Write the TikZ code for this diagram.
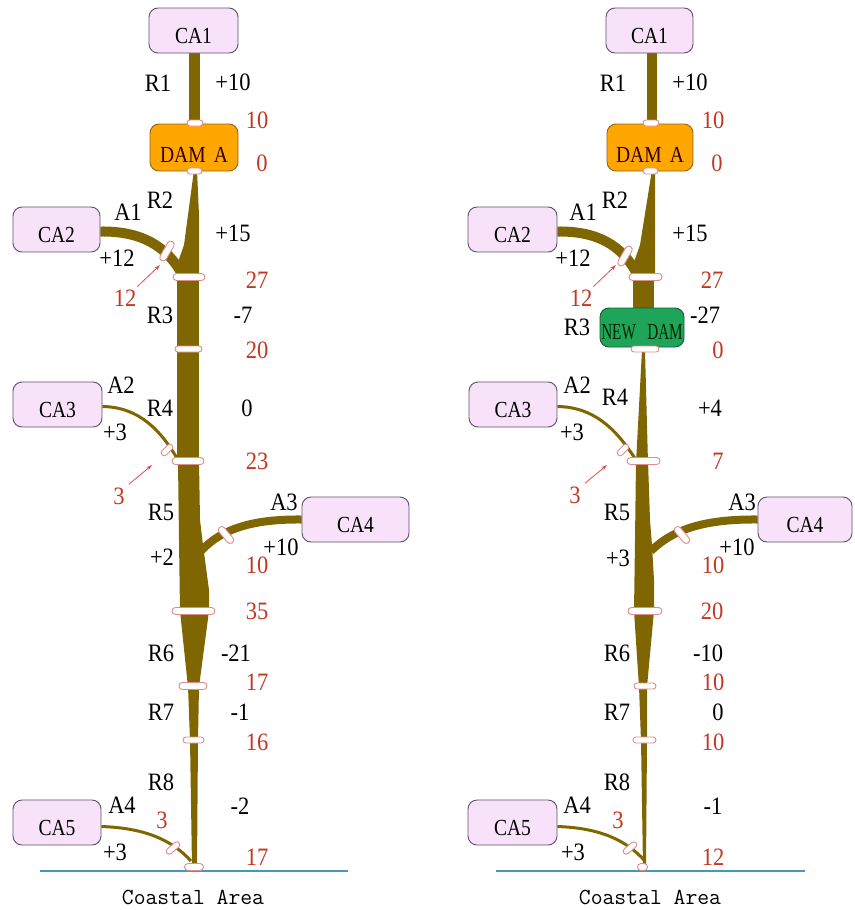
\documentclass[tikz,border=0pt]{standalone}
\usepackage{fontspec}
\setmainfont{Liberation Serif}
\newfontfamily\labfont[FakeStretch=0.9]{Liberation Serif}
\newfontfamily\boxfont[FakeStretch=0.85]{Liberation Serif}
\newfontfamily\damfont[FakeStretch=0.66]{Liberation Serif}
\usetikzlibrary{shapes.misc,arrows.meta,backgrounds}
\definecolor{river}{RGB}{128,102,0}
\definecolor{boxfill}{RGB}{248,226,250}
\definecolor{boxline}{RGB}{95,80,105}
\definecolor{damorange}{RGB}{255,166,0}
\definecolor{damline}{RGB}{150,100,20}
\definecolor{damgreen}{RGB}{30,165,90}
\definecolor{greenline}{RGB}{25,90,50}
\definecolor{labred}{RGB}{195,55,35}
\definecolor{arrowred}{RGB}{225,80,80}
\definecolor{markline}{RGB}{225,140,140}
\definecolor{coast}{RGB}{70,150,190}
\tikzset{
  cabox/.style={draw=boxline, fill=boxfill, line width=0.9pt, rounded corners=9pt,
    inner sep=0pt, minimum height=45pt, text height=25pt, text depth=0pt,
    font=\boxfont\fontsize{23}{23}\selectfont},
  dambox/.style={draw=damline, fill=damorange, line width=0.9pt, rounded corners=9pt,
    inner sep=0pt, minimum height=47pt, text height=30pt, text depth=0pt,
    text=black!80!red, font=\boxfont\fontsize{23}{23}\selectfont},
  newdambox/.style={draw=greenline, fill=damgreen, line width=0.9pt, rounded corners=9pt,
    inner sep=0pt, minimum height=39pt, text height=24pt, text depth=0pt,
    text=black!85!green, font=\damfont\fontsize{23}{23}\selectfont},
  lab/.style={inner sep=0pt, text=black, font=\labfont\fontsize{25}{25}\selectfont},
  rlab/.style={lab, text=labred},
  gauge/.style={rounded rectangle, draw=markline, fill=white, line width=0.9pt, inner sep=0pt},
  thickarm/.style={draw=river, line width=10pt},
  midarm/.style={draw=river, line width=8pt},
  thinarm/.style={draw=river, line width=3pt},
  pointer/.style={draw=arrowred, line width=0.8pt, -{Stealth[length=6pt,width=4pt]}},
  coastline/.style={draw=coast, line width=2.5pt},
  coasttext/.style={inner sep=0pt, font=\ttfamily\fontsize{23}{23}\selectfont}
}
\begin{document}
\begin{tikzpicture}[x=1pt,y=-1pt]
\useasboundingbox (0,0) rectangle (854,910);

%================ LEFT DIAGRAM =================
\node[cabox, minimum width=89pt] (Lca1) at (193.5,30.5) {CA1};
\node[dambox, minimum width=88pt] (Ldam) at (194,147.5) {DAM\hspace{0.35em}A};
\node[cabox, minimum width=87pt] (Lca2) at (56.5,229.5) {CA2};
\node[cabox, minimum width=89pt] (Lca3) at (57.5,404.5) {CA3};
\node[cabox, minimum width=107pt] (Lca4) at (355.5,519.5) {CA4};
\node[cabox, minimum width=88pt] (Lca5) at (57,822.5) {CA5};

\coordinate (Lj1) at (182,274);
\coordinate (Lj2) at (178,460);
\coordinate (Lj3) at (201,551);
\coordinate (Lj4) at (191,861);
\coordinate (Lc1) at (40,871);
\coordinate (Lc2) at (348,871);

\begin{scope}[on background layer]
  \fill[white] (0,0) rectangle (854,910);
  \fill[river] (189,50) rectangle (200,126);
  \fill[river] (194,170) -- (197,170) -- (199,215) -- (199,279) -- (177,279) -- (178,262) -- (184,245) -- cycle;
  \fill[river] (177,277) rectangle (199,351);
  \fill[river] (177,349) -- (199,349) -- (199,463) -- (177,463) -- cycle;
  \fill[river] (178,461) -- (199,461) -- (200,520) -- (203,545) -- (209,590) -- (209,612) -- (180,612) -- (179,540) -- cycle;
  \fill[river] (180,611) -- (209,611) -- (199,687) -- (188,687) -- cycle;
  \fill[river] (188,686) -- (199,686) -- (198,741) -- (190,741) -- cycle;
  \fill[river] (190,740) -- (198,740) -- (197,867) -- (192,867) -- cycle;
  \draw[thickarm] ([yshift=-2pt]Lca2.east) .. controls (140,231) and (166,245) .. (Lj1);
  \draw[thinarm] ([yshift=-2pt]Lca3.east) .. controls (140,407) and (162,432) .. (Lj2);
  \draw[midarm] (Lca4.west) .. controls (255,519) and (222,528) .. (Lj3);
  \draw[thinarm] ([yshift=-4pt]Lca5.east) .. controls (145,828) and (172,840) .. (Lj4);
\end{scope}
\draw[coastline] (Lc1) -- (Lc2);

\node[gauge, minimum width=16pt, minimum height=6pt] (Lm1) at (195,123) {};
\node[gauge, minimum width=15pt, minimum height=6pt] (Lm2) at (194.5,171) {};
\node[gauge, minimum width=32pt, minimum height=7pt] (Lm3) at (189,277) {};
\node[gauge, minimum width=27pt, minimum height=6pt] (Lm4) at (188.5,349) {};
\node[gauge, minimum width=32pt, minimum height=7pt] (Lm5) at (188,461) {};
\node[gauge, minimum width=43pt, minimum height=7pt] (Lm6) at (193.5,611) {};
\node[gauge, minimum width=28pt, minimum height=7pt] (Lm7) at (193,686) {};
\node[gauge, minimum width=21pt, minimum height=6pt] (Lm8) at (193.5,740) {};
\node[gauge, minimum width=19pt, minimum height=7pt] (Lm9) at (194,867) {};
\node[gauge, minimum width=22pt, minimum height=7pt, rotate=60] (LmA1) at (167,251) {};
\node[gauge, minimum width=14pt, minimum height=6pt, rotate=45] (LmA2) at (167,450) {};
\node[gauge, minimum width=20pt, minimum height=7pt, rotate=-50] (LmA3) at (226,535) {};
\node[gauge, minimum width=16pt, minimum height=6pt, rotate=40] (LmA4) at (173,848) {};

\node[lab] (Lr1) at (158,83) {R1};
\node[lab] (Lv1) at (233,82) {+10};
\node[rlab] (Ls1) at (257,120) {10};
\node[rlab] (Ls2) at (262,163) {0};
\node[lab] (Lr2) at (160,200) {R2};
\node[lab] (La1) at (128,212) {A1};
\node[lab] (Lv2) at (233,233) {+15};
\node[lab] (Lva1) at (117,258) {+12};
\node[rlab] (Ls3) at (257,280) {27};
\node[rlab] (Lsa1) at (125,298) {12};
\node[lab] (Lr3) at (160,315) {R3};
\node[lab] (Lv3) at (243,315) {-7};
\node[rlab] (Ls4) at (257,350) {20};
\node[lab] (La2) at (121,385) {A2};
\node[lab] (Lr4) at (160,408) {R4};
\node[lab] (Lv4) at (247,408) {0};
\node[lab] (Lva2) at (115,432) {+3};
\node[rlab] (Ls5) at (257,461) {23};
\node[rlab] (Lsa2) at (119,496) {3};
\node[lab] (Lr5) at (161,512) {R5};
\node[lab] (La3) at (284,502) {A3};
\node[lab] (Lv5) at (162,557) {+2};
\node[lab] (Lva3) at (281,547) {+10};
\node[rlab] (Lsa3) at (257,565) {10};
\node[rlab] (Ls6) at (257,611) {35};
\node[lab] (Lr6) at (161,653) {R6};
\node[lab] (Lv6) at (236,653) {-21};
\node[rlab] (Ls7) at (257,682) {17};
\node[lab] (Lr7) at (161,712) {R7};
\node[lab] (Lv7) at (240,712) {-1};
\node[rlab] (Ls8) at (257,742) {16};
\node[lab] (Lr8) at (161,782) {R8};
\node[lab] (La4) at (122,805) {A4};
\node[lab] (Lv8) at (240,806) {-2};
\node[rlab] (Lsa4) at (162,820) {3};
\node[lab] (Lva4) at (115,852) {+3};
\node[rlab] (Ls9) at (257,857) {17};
\node[coasttext] (Lcoast) at (193,897) {Coastal Area};

\coordinate (Lh1) at (160,265);
\coordinate (Lh2) at (152,465);
\draw[pointer] ([shift={(1,-3)}]Lsa1.north east) -- (Lh1);
\draw[pointer] ([shift={(4,-3)}]Lsa2.north east) -- (Lh2);

%================ RIGHT DIAGRAM =================
\node[cabox, minimum width=87pt] (Rca1) at (649.5,30.5) {CA1};
\node[dambox, minimum width=86pt] (Rdam) at (650,147.5) {DAM\hspace{0.35em}A};
\node[cabox, minimum width=89pt] (Rca2) at (512.5,229.5) {CA2};
\node[newdambox, minimum width=84pt] (Rnew) at (642,327.5) {NEW\hspace{0.5em}DAM};
\node[cabox, minimum width=88pt] (Rca3) at (513,404.5) {CA3};
\node[cabox, minimum width=94pt] (Rca4) at (805,519.5) {CA4};
\node[cabox, minimum width=89pt] (Rca5) at (512.5,822.5) {CA5};

\coordinate (Rj1) at (637,274);
\coordinate (Rj2) at (636,460);
\coordinate (Rj3) at (651,551);
\coordinate (Rj4) at (645,861);
\coordinate (Rc1) at (496,871);
\coordinate (Rc2) at (805,871);

\begin{scope}[on background layer]
  \fill[river] (647,50) rectangle (657,126);
  \fill[river] (652,170) -- (655,170) -- (655,215) -- (655,279) -- (633,279) -- (634,262) -- (640,245) -- cycle;
  \fill[river] (633,277) rectangle (654,312);
  \fill[river] (642,350) -- (645,350) -- (648,463) -- (636,463) -- cycle;
  \fill[river] (636,461) -- (648,461) -- (650,520) -- (652,545) -- (654,580) -- (654,612) -- (634,612) -- (635,540) -- cycle;
  \fill[river] (634,611) -- (654,611) -- (647,687) -- (639,687) -- cycle;
  \fill[river] (639,686) -- (647,686) -- (647,741) -- (641,741) -- cycle;
  \fill[river] (641,740) -- (647,740) -- (646,867) -- (643,867) -- cycle;
  \draw[thickarm] ([yshift=-2pt]Rca2.east) .. controls (597,231) and (622,245) .. (Rj1);
  \draw[thinarm] ([yshift=-2pt]Rca3.east) .. controls (596,407) and (618,432) .. (Rj2);
  \draw[midarm] (Rca4.west) .. controls (708,519) and (674,528) .. (Rj3);
  \draw[thinarm] ([yshift=-4pt]Rca5.east) .. controls (600,828) and (626,840) .. (Rj4);
\end{scope}
\draw[coastline] (Rc1) -- (Rc2);

\node[gauge, minimum width=16pt, minimum height=6pt] (Rm1) at (651,123) {};
\node[gauge, minimum width=15pt, minimum height=6pt] (Rm2) at (650.5,171) {};
\node[gauge, minimum width=33pt, minimum height=7pt] (Rm3) at (645.5,277) {};
\node[gauge, minimum width=28pt, minimum height=6pt] (Rm4) at (645,349) {};
\node[gauge, minimum width=33pt, minimum height=7pt] (Rm5) at (643.5,461) {};
\node[gauge, minimum width=34pt, minimum height=7pt] (Rm6) at (645,611) {};
\node[gauge, minimum width=22pt, minimum height=6pt] (Rm7) at (645,686) {};
\node[gauge, minimum width=23pt, minimum height=6pt] (Rm8) at (644.5,740) {};
\node[gauge, minimum width=10pt, minimum height=7pt] (Rm9) at (642.5,867) {};
\node[gauge, minimum width=22pt, minimum height=7pt, rotate=60] (RmA1) at (625,256) {};
\node[gauge, minimum width=14pt, minimum height=6pt, rotate=45] (RmA2) at (623,450) {};
\node[gauge, minimum width=20pt, minimum height=7pt, rotate=-50] (RmA3) at (682,535) {};
\node[gauge, minimum width=16pt, minimum height=6pt, rotate=40] (RmA4) at (630,848) {};

\node[lab] (Rr1) at (613,83) {R1};
\node[lab] (Rv1) at (690,82) {+10};
\node[rlab] (Rs1) at (713,120) {10};
\node[rlab] (Rs2) at (717,163) {0};
\node[lab] (Rr2) at (615,200) {R2};
\node[lab] (Ra1) at (583,212) {A1};
\node[lab] (Rv2) at (690,233) {+15};
\node[lab] (Rva1) at (573,258) {+12};
\node[rlab] (Rs3) at (712,280) {27};
\node[rlab] (Rsa1) at (581,298) {12};
\node[lab] (Rr3) at (577,327) {R3};
\node[lab] (Rv3) at (705,315) {-27};
\node[rlab] (Rs4) at (718,350) {0};
\node[lab] (Ra2) at (577,385) {A2};
\node[lab] (Rr4) at (615,397) {R4};
\node[lab] (Rv4) at (710,408) {+4};
\node[lab] (Rva2) at (572,432) {+3};
\node[rlab] (Rs5) at (718,461) {7};
\node[rlab] (Rsa2) at (575,495) {3};
\node[lab] (Rr5) at (617,512) {R5};
\node[lab] (Ra3) at (742,502) {A3};
\node[lab] (Rv5) at (618,558) {+3};
\node[lab] (Rva3) at (737,547) {+10};
\node[rlab] (Rsa3) at (713,565) {10};
\node[rlab] (Rs6) at (712,611) {20};
\node[lab] (Rr6) at (617,653) {R6};
\node[lab] (Rv6) at (708,653) {-10};
\node[rlab] (Rs7) at (713,682) {10};
\node[lab] (Rr7) at (617,712) {R7};
\node[lab] (Rv7) at (718,712) {0};
\node[rlab] (Rs8) at (713,742) {10};
\node[lab] (Rr8) at (617,782) {R8};
\node[lab] (Ra4) at (577,805) {A4};
\node[lab] (Rv8) at (713,806) {-1};
\node[rlab] (Rsa4) at (618,820) {3};
\node[lab] (Rva4) at (573,852) {+3};
\node[rlab] (Rs9) at (713,857) {12};
\node[coasttext] (Rcoast) at (650,897) {Coastal Area};

\coordinate (Rh1) at (616,265);
\coordinate (Rh2) at (607,465);
\draw[pointer] ([shift={(1,-3)}]Rsa1.north east) -- (Rh1);
\draw[pointer] ([shift={(4,-3)}]Rsa2.north east) -- (Rh2);
\end{tikzpicture}
\end{document}
